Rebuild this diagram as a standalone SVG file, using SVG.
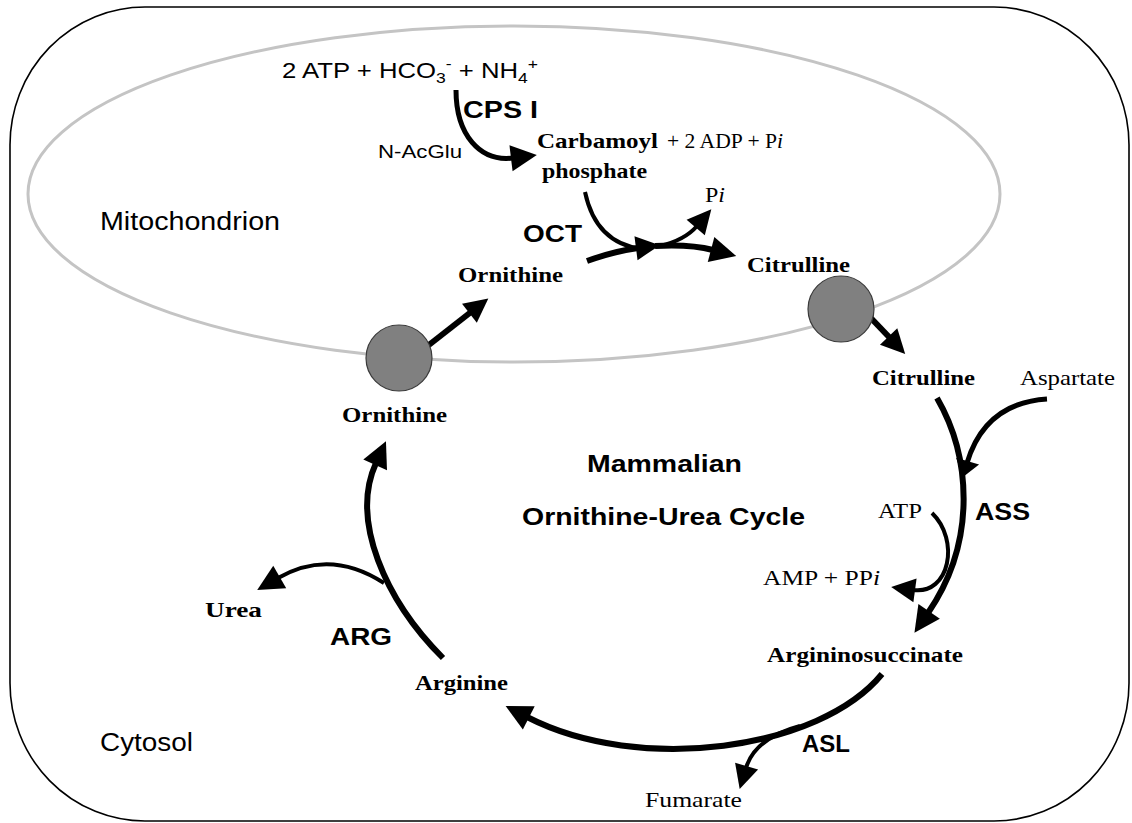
<svg xmlns="http://www.w3.org/2000/svg" width="1132" height="823" viewBox="0 0 1132 823">
<style>
.sans{font-family:"Liberation Sans",Arial,sans-serif;fill:#000}
.serif{font-family:"Liberation Serif","Times New Roman",serif;fill:#000}
.b{font-weight:bold}
.conn{fill:none;stroke:#000;stroke-linecap:butt}
.w6{stroke-width:6}
.w4{stroke-width:4}
.w5{stroke-width:5}
.port{fill:#808080;stroke:#3a3a3a;stroke-width:1.2}
</style>
<defs>
<marker id="ah" markerUnits="userSpaceOnUse" markerWidth="40" markerHeight="40" refX="2" refY="13" orient="auto" overflow="visible">
<path d="M0,0 L26,13 L0,26 z" fill="#000"/>
</marker>
<marker id="ahm" markerUnits="userSpaceOnUse" markerWidth="40" markerHeight="40" refX="2" refY="12" orient="auto" overflow="visible">
<path d="M0,0 L24,12 L0,24 z" fill="#000"/>
</marker>
<marker id="ahw" markerUnits="userSpaceOnUse" markerWidth="40" markerHeight="40" refX="2" refY="12" orient="auto" overflow="visible">
<path d="M0,0 L17,12 L0,24 z" fill="#000"/>
</marker>
</defs>
<rect x="0" y="0" width="1132" height="823" fill="#fff"/>
<g id="cytosol">
<rect x="10" y="7" width="1119" height="814" rx="135" ry="138" fill="none" stroke="#000" stroke-width="1.6"/>
<text class="sans" x="100" y="751" font-size="25" textLength="93" lengthAdjust="spacingAndGlyphs">Cytosol</text>
</g>
<g id="mitochondrion">
<ellipse cx="514" cy="194" rx="486" ry="168" fill="none" stroke="#c4c4c4" stroke-width="3"/>
<text class="sans" x="100" y="230" font-size="25" textLength="180" lengthAdjust="spacingAndGlyphs">Mitochondrion</text>
</g>
<g id="connectors">
<path class="conn w5" d="M456,90 C456,135 480,162 513,158" marker-end="url(#ah)"/>
<path class="conn w4" d="M585,192 C592,225 610,245 642,249"/>
<path class="conn w6" d="M587,261 Q615,251 638,248" marker-end="url(#ahm)"/>
<path class="conn w6" d="M655,246 Q690,244 713,250" marker-end="url(#ah)"/>
<path class="conn w4" d="M660,246 Q685,240 697,226" marker-end="url(#ahm)"/>
<path class="conn w6" d="M425,348 L471,312" marker-end="url(#ahm)"/>
<path class="conn w6" d="M868,315 L890,338" marker-end="url(#ahm)"/>
<path class="conn w6" d="M937,398 C970,455 978,540 928,613" marker-end="url(#ah)"/>
<path class="conn w5" d="M1047,399 Q985,403 967,463" marker-end="url(#ahw)"/>
<path class="conn w4" d="M932,513 C960,540 950,595 913,590" marker-end="url(#ahm)"/>
<path class="conn w6" d="M882,674 C820,750 640,775 527,717" marker-end="url(#ah)"/>
<path class="conn w4" d="M800,726 Q755,738 746,768" marker-end="url(#ahm)"/>
<path class="conn w6" d="M443,658 C385,600 350,520 376,463" marker-end="url(#ah)"/>
<path class="conn w4" d="M384,583 Q330,548 278,578" marker-end="url(#ah)"/>
</g>
<g id="transporter-ornithine">
<circle class="port" cx="399" cy="358" r="33"/>
</g>
<g id="transporter-citrulline">
<circle class="port" cx="841" cy="309" r="33"/>
</g>
<g id="substrates">
<text class="sans" x="282" y="78" font-size="22" textLength="256" lengthAdjust="spacingAndGlyphs">2 ATP + HCO<tspan font-size="15" dy="5">3</tspan><tspan font-size="15" dy="-14">-</tspan><tspan dy="9"> + NH</tspan><tspan font-size="15" dy="5">4</tspan><tspan font-size="15" dy="-14">+</tspan></text>
</g>
<g id="cps1">
<text class="sans b" x="463" y="118" font-size="24" textLength="75" lengthAdjust="spacingAndGlyphs">CPS I</text>
</g>
<g id="nacglu">
<text class="sans" x="378" y="158" font-size="19" textLength="84" lengthAdjust="spacingAndGlyphs">N-AcGlu</text>
</g>
<g id="carbamoyl-phosphate">
<text class="serif b" x="537" y="148" font-size="22" textLength="121" lengthAdjust="spacingAndGlyphs">Carbamoyl</text>
<text class="serif b" x="542" y="178" font-size="22" textLength="105" lengthAdjust="spacingAndGlyphs">phosphate</text>
</g>
<g id="adp-pi">
<text class="serif" x="667" y="148" font-size="21" textLength="116" lengthAdjust="spacingAndGlyphs">+ 2 ADP + P<tspan font-style="italic">i</tspan></text>
</g>
<g id="pi">
<text class="serif" x="705" y="202" font-size="21" textLength="20" lengthAdjust="spacingAndGlyphs">P<tspan font-style="italic">i</tspan></text>
</g>
<g id="oct">
<text class="sans b" x="523" y="242" font-size="24" textLength="59" lengthAdjust="spacingAndGlyphs">OCT</text>
</g>
<g id="citrulline-mito">
<text class="serif b" x="747" y="272" font-size="22" textLength="103" lengthAdjust="spacingAndGlyphs">Citrulline</text>
</g>
<g id="ornithine-mito">
<text class="serif b" x="458" y="282" font-size="22" textLength="105" lengthAdjust="spacingAndGlyphs">Ornithine</text>
</g>
<g id="ornithine-cyto">
<text class="serif b" x="342" y="422" font-size="22" textLength="105" lengthAdjust="spacingAndGlyphs">Ornithine</text>
</g>
<g id="citrulline-cyto">
<text class="serif b" x="872" y="385" font-size="22" textLength="103" lengthAdjust="spacingAndGlyphs">Citrulline</text>
</g>
<g id="aspartate">
<text class="serif" x="1020" y="385" font-size="21" textLength="95" lengthAdjust="spacingAndGlyphs">Aspartate</text>
</g>
<g id="title">
<text class="sans b" x="587" y="472" font-size="24" textLength="155" lengthAdjust="spacingAndGlyphs">Mammalian</text>
<text class="sans b" x="522" y="525" font-size="24" textLength="283" lengthAdjust="spacingAndGlyphs">Ornithine-Urea Cycle</text>
</g>
<g id="atp">
<text class="serif" x="878" y="518" font-size="20" textLength="44" lengthAdjust="spacingAndGlyphs">ATP</text>
</g>
<g id="ass">
<text class="sans b" x="975" y="520" font-size="24" textLength="55" lengthAdjust="spacingAndGlyphs">ASS</text>
</g>
<g id="amp-ppi">
<text class="serif" x="763" y="585" font-size="20" textLength="117" lengthAdjust="spacingAndGlyphs">AMP + PP<tspan font-style="italic">i</tspan></text>
</g>
<g id="argininosuccinate">
<text class="serif b" x="767" y="662" font-size="22" textLength="196" lengthAdjust="spacingAndGlyphs">Argininosuccinate</text>
</g>
<g id="asl">
<text class="sans b" x="802" y="752" font-size="24" textLength="48" lengthAdjust="spacingAndGlyphs">ASL</text>
</g>
<g id="fumarate">
<text class="serif" x="645" y="807" font-size="21" textLength="97" lengthAdjust="spacingAndGlyphs">Fumarate</text>
</g>
<g id="arginine">
<text class="serif b" x="415" y="690" font-size="22" textLength="93" lengthAdjust="spacingAndGlyphs">Arginine</text>
</g>
<g id="arg">
<text class="sans b" x="330" y="645" font-size="24" textLength="62" lengthAdjust="spacingAndGlyphs">ARG</text>
</g>
<g id="urea">
<text class="serif b" x="205" y="617" font-size="22" textLength="57" lengthAdjust="spacingAndGlyphs">Urea</text>
</g>
</svg>
